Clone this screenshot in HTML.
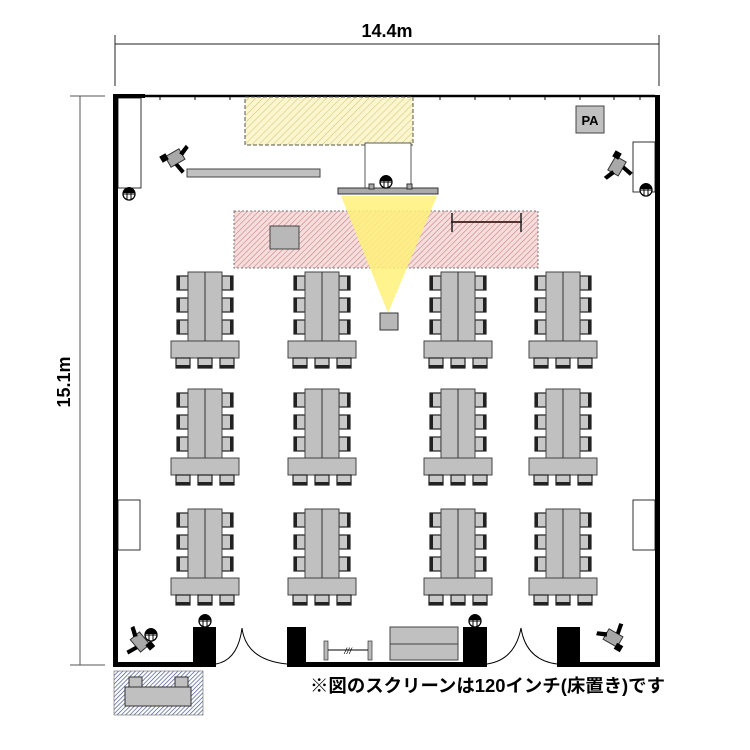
<!DOCTYPE html>
<html><head><meta charset="utf-8"><style>body{margin:0;background:#fff}svg{display:block}</style></head><body>
<svg width="750" height="750" viewBox="0 0 750 750" xmlns="http://www.w3.org/2000/svg">
<defs>
<pattern id="hy" width="5" height="5" patternUnits="userSpaceOnUse" patternTransform="rotate(45)"><rect width="5" height="5" fill="#fbf6cf"/><line x1="0" y1="0" x2="0" y2="5" stroke="#d8c878" stroke-width="1.2"/></pattern>
<pattern id="hp" width="4" height="4" patternUnits="userSpaceOnUse" patternTransform="rotate(45)"><rect width="4" height="4" fill="#f6dede"/><line x1="0" y1="0" x2="0" y2="4" stroke="#c98080" stroke-width="1.2"/></pattern>
<pattern id="hb" width="3" height="3" patternUnits="userSpaceOnUse" patternTransform="rotate(45)"><rect width="3" height="3" fill="#fff"/><line x1="0" y1="0" x2="0" y2="3" stroke="#3a4a8a" stroke-width="1.3"/></pattern>
<g id="chL"><rect x="0" y="0" width="11" height="14" fill="#c8c8c8" stroke="#222" stroke-width="1.2"/><rect x="0" y="0" width="3" height="14" fill="#222"/></g>
<g id="chR"><rect x="0" y="0" width="11" height="14" fill="#c8c8c8" stroke="#222" stroke-width="1.2"/><rect x="8" y="0" width="3" height="14" fill="#222"/></g>
<g id="chB"><rect x="0" y="0" width="14" height="10" fill="#c8c8c8" stroke="#222" stroke-width="1.2"/><rect x="0" y="7" width="14" height="3" fill="#222"/></g>
<g id="grp">
<use href="#chL" x="-28" y="4"/><use href="#chL" x="-28" y="26"/><use href="#chL" x="-28" y="48"/>
<use href="#chR" x="17" y="4"/><use href="#chR" x="17" y="26"/><use href="#chR" x="17" y="48"/>
<rect x="-17" y="0" width="34" height="69" fill="#c0c0c0" stroke="#444"/>
<line x1="0" y1="0" x2="0" y2="69" stroke="#333"/>
<rect x="-34" y="69" width="68" height="17" fill="#c0c0c0" stroke="#444"/>
<use href="#chB" x="-29" y="86"/><use href="#chB" x="-7" y="86"/><use href="#chB" x="15" y="86"/>
</g>
<g id="cam"><rect x="-8" y="-6" width="16" height="12" fill="#a8a8a8" stroke="#333"/><rect x="-13" y="-9" width="7" height="7" fill="#000"/><path d="M6 -2 L16 -6 L17 -2 L8 2Z" fill="#000"/><path d="M0 6 L2 16 L-2 17 L-4 6Z" fill="#000"/></g>
<g id="mic"><circle r="6" fill="#fff" stroke="#000" stroke-width="1.3"/><line x1="-2" y1="-5" x2="-2" y2="5" stroke="#000"/><line x1="2" y1="-5" x2="2" y2="5" stroke="#000"/><line x1="-6" y1="0" x2="6" y2="0" stroke="#000"/><path d="M-6 -1 A6 6 0 0 1 6 -1Z" fill="#000"/></g>
</defs>

<line x1="115" y1="44" x2="659" y2="44" stroke="#222"/>
<line x1="115" y1="35" x2="115" y2="86" stroke="#222"/>
<line x1="659" y1="35" x2="659" y2="86" stroke="#222"/>
<text x="387" y="37" font-family="Liberation Sans, sans-serif" font-size="18" font-weight="bold" text-anchor="middle">14.4m</text>
<line x1="80" y1="96" x2="80" y2="665" stroke="#555"/>
<line x1="70" y1="96" x2="105" y2="96" stroke="#555"/>
<line x1="70" y1="665" x2="105" y2="665" stroke="#555"/>
<text transform="translate(70 382) rotate(-90)" font-family="Liberation Sans, sans-serif" font-size="18" font-weight="bold" text-anchor="middle">15.1m</text>

<rect x="113" y="94" width="5" height="573" fill="#000"/>
<rect x="113" y="94" width="32" height="4" fill="#000"/>
<line x1="145" y1="96" x2="655" y2="96" stroke="#000" stroke-width="2.5"/>
<g stroke="#000" stroke-width="1">
<line x1="160" y1="96" x2="160" y2="100"/><line x1="195" y1="96" x2="195" y2="100"/><line x1="230" y1="96" x2="230" y2="100"/><line x1="265" y1="96" x2="265" y2="100"/><line x1="300" y1="96" x2="300" y2="100"/><line x1="335" y1="96" x2="335" y2="100"/><line x1="370" y1="96" x2="370" y2="100"/><line x1="405" y1="96" x2="405" y2="100"/><line x1="440" y1="96" x2="440" y2="100"/><line x1="475" y1="96" x2="475" y2="100"/><line x1="510" y1="96" x2="510" y2="100"/><line x1="545" y1="96" x2="545" y2="100"/><line x1="580" y1="96" x2="580" y2="100"/><line x1="614" y1="96" x2="614" y2="100"/><line x1="640" y1="96" x2="640" y2="100"/>
</g>
<rect x="655" y="95" width="5" height="572" fill="#000"/>
<rect x="113" y="662" width="80" height="5" fill="#000"/>
<rect x="306" y="662" width="157" height="5" fill="#000"/>
<rect x="580" y="662" width="80" height="5" fill="#000"/>
<rect x="118" y="98" width="23" height="90" fill="#fff" stroke="#000" stroke-width="0.8"/>
<rect x="633" y="142" width="22" height="50" fill="#fff" stroke="#000" stroke-width="0.8"/>
<rect x="118" y="500" width="22" height="50" fill="#fff" stroke="#000" stroke-width="0.8"/>
<rect x="633" y="500" width="22" height="50" fill="#fff" stroke="#000" stroke-width="0.8"/>

<rect x="245" y="97" width="168" height="48" fill="url(#hy)" stroke="#555" stroke-dasharray="4 2"/>
<rect x="365" y="143" width="46" height="47" fill="#fff" stroke="#333" stroke-width="0.8"/>
<rect x="234" y="211" width="304" height="57" fill="url(#hp)" stroke="#777" stroke-dasharray="2 2"/>
<rect x="270" y="226" width="29" height="23" fill="#b8b8b8" stroke="#444"/>
<line x1="451" y1="222" x2="522" y2="222" stroke="#533" stroke-width="2"/>
<line x1="452" y1="213" x2="452" y2="232" stroke="#222" stroke-width="1.5"/>
<line x1="521" y1="213" x2="521" y2="232" stroke="#222" stroke-width="1.5"/>
<polygon points="341,196 437,196 388,313" fill="#fff17a" opacity="0.85"/>
<rect x="338" y="188" width="100" height="6" fill="#aaa" stroke="#333"/>
<rect x="369" y="184" width="5" height="5" fill="#aaa" stroke="#333"/><rect x="407" y="184" width="5" height="5" fill="#aaa" stroke="#333"/>
<use href="#mic" x="386" y="182"/>
<rect x="380" y="313" width="18" height="17" fill="#b8b8b8" stroke="#333"/>
<rect x="187" y="169" width="133" height="8" fill="#c0c0c0" stroke="#444"/>
<rect x="576" y="106" width="28" height="27" fill="#c0c0c0" stroke="#444"/>
<text x="590" y="125" font-family="Liberation Sans, sans-serif" font-size="13" font-weight="bold" text-anchor="middle">PA</text>
<use href="#mic" x="129" y="194"/>
<use href="#mic" x="646" y="190"/>
<use href="#cam" transform="translate(175 158) rotate(-30)"/>
<use href="#cam" transform="translate(617 166) rotate(120) scale(1 -1)"/>

<use href="#grp" x="205" y="272"/><use href="#grp" x="322" y="272"/><use href="#grp" x="458" y="272"/><use href="#grp" x="563" y="272"/>
<use href="#grp" x="205" y="389"/><use href="#grp" x="322" y="389"/><use href="#grp" x="458" y="389"/><use href="#grp" x="563" y="389"/>
<use href="#grp" x="205" y="509"/><use href="#grp" x="322" y="509"/><use href="#grp" x="458" y="509"/><use href="#grp" x="563" y="509"/>

<rect x="193" y="627" width="23" height="40" fill="#000"/>
<rect x="287" y="627" width="19" height="40" fill="#000"/>
<rect x="463" y="627" width="24" height="40" fill="#000"/>
<rect x="557" y="627" width="23" height="40" fill="#000"/>
<path d="M216 664 Q238 660 242 628 Q246 660 287 664" fill="none" stroke="#000"/>
<path d="M487 664 Q515 660 521 628 Q526 660 557 664" fill="none" stroke="#000"/>
<use href="#mic" x="205" y="621"/><use href="#mic" x="475" y="621"/>
<use href="#mic" x="151" y="635"/>
<use href="#cam" transform="translate(140 642) rotate(-130) scale(1 -1)"/>
<use href="#cam" transform="translate(613 638) rotate(-150)"/>
<rect x="390" y="627" width="68" height="33" fill="#c0c0c0" stroke="#444"/>
<line x1="390" y1="644" x2="458" y2="644" stroke="#444"/>
<rect x="324" y="641" width="4" height="19" fill="#bbb" stroke="#333" stroke-width="0.7"/>
<rect x="368" y="641" width="4" height="19" fill="#bbb" stroke="#333" stroke-width="0.7"/>
<line x1="328" y1="650" x2="368" y2="650" stroke="#000"/>
<text x="348" y="654" font-family="Liberation Sans, sans-serif" font-size="9" font-style="italic" text-anchor="middle">///</text>
<rect x="114" y="671" width="89" height="44" fill="url(#hb)" stroke="#666" stroke-width="0.6"/>
<rect x="125" y="687" width="66" height="19" fill="#c0c0c0" stroke="#333"/>
<rect x="129" y="677" width="13" height="10" fill="#c0c0c0" stroke="#333"/>
<rect x="175" y="677" width="13" height="10" fill="#c0c0c0" stroke="#333"/>
<text x="310" y="692" font-family="Liberation Sans, 'Noto Sans CJK JP', sans-serif" font-size="18" font-weight="bold" textLength="355" lengthAdjust="spacingAndGlyphs">※図のスクリーンは120インチ(床置き)です</text>
</svg>
</body></html>
